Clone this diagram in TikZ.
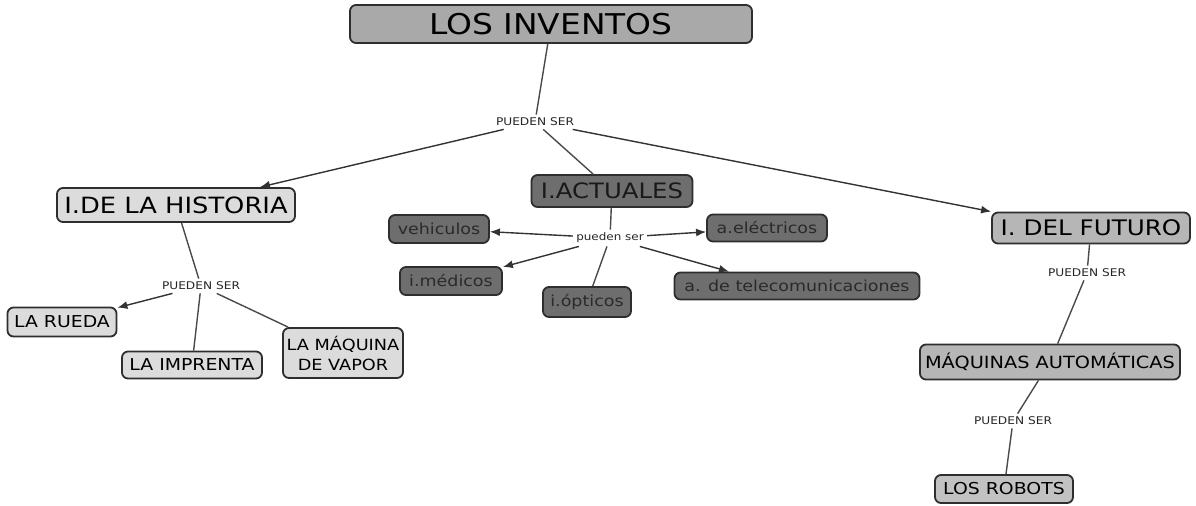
\documentclass[tikz,border=0pt]{standalone}
\usepackage{fontspec}
\setmainfont[FakeStretch=1.15]{DejaVu Sans}
\usetikzlibrary{arrows.meta}
\definecolor{bord}{HTML}{2E2E2E}
\definecolor{topfill}{HTML}{A9A9A9}
\definecolor{histfill}{HTML}{DCDCDC}
\definecolor{actfill}{HTML}{6E6E6E}
\definecolor{acttext}{HTML}{2A2A2A}
\definecolor{futfill}{HTML}{B6B6B6}
\definecolor{robfill}{HTML}{C2C2C2}
\definecolor{linec}{HTML}{4A4A4A}
\tikzset{
  box/.style={draw=bord, line width=0.9pt, rounded corners=3pt, inner sep=0pt, align=center},
  topbox/.style={box, fill=topfill, font=\fontsize{14.3}{16}\selectfont},
  histbox/.style={box, fill=histfill},
  actbox/.style={box, fill=actfill, text=acttext, font=\fontsize{7.6}{9}\selectfont},
  futbox/.style={box, fill=futfill},
  medfont/.style={font=\fontsize{8.2}{10}\selectfont},
  lbl/.style={font=\fontsize{5.3}{6}\selectfont, inner sep=1.5pt, text=black!85},
  conn/.style={draw=linec, line width=0.7pt},
  arr/.style={conn, -{Latex[length=5pt,width=4pt]}, draw=black!80, fill=black!80}
}
\begin{document}
\begin{tikzpicture}[x=0.5pt,y=-0.5pt]
\useasboundingbox (0,0) rectangle (1196,505);
% main
\node[topbox, minimum width=201pt, minimum height=19pt] (inv) at (551,24) {LOS INVENTOS};
\node[lbl] (ps1) at (535,122) {PUEDEN SER};
% historia
\node[histbox, minimum width=119pt, minimum height=17pt, font=\fontsize{11.2}{13}\selectfont] (hist) at (176,205) {I.DE LA HISTORIA};
\node[lbl] (ps2) at (201,286) {PUEDEN SER};
\node[histbox, medfont, minimum width=54.5pt, minimum height=14.5pt] (rueda) at (62,322) {LA RUEDA};
\node[histbox, medfont, minimum width=70pt, minimum height=13.5pt] (impr) at (192,365) {LA IMPRENTA};
\node[histbox, font=\fontsize{7.7}{10}\selectfont, minimum width=60pt, minimum height=25pt] (vapor) at (343,353) {LA MÁQUINA\\DE VAPOR};
% actuales
\node[box, fill=actfill, text=black!90, font=\fontsize{10.6}{12}\selectfont, minimum width=80.5pt, minimum height=16pt] (act) at (612,191) {I.ACTUALES};
\node[lbl, font=\fontsize{5.2}{6}\selectfont] (ps3) at (610,238) {pueden ser};
\node[actbox, minimum width=50pt, minimum height=14pt] (veh) at (439,229) {vehiculos};
\node[actbox, minimum width=60pt, minimum height=13.5pt] (ele) at (767,228) {a.eléctricos};
\node[actbox, minimum width=51pt, minimum height=14pt] (med) at (451,281) {i.médicos};
\node[actbox, minimum width=44pt, minimum height=15pt] (opt) at (587,302) {i.ópticos};
\node[actbox, minimum width=122.5pt, minimum height=13.5pt] (tel) at (797,286) {a. de telecomunicaciones};
% futuro
\node[futbox, minimum width=99pt, minimum height=15.5pt, font=\fontsize{10.7}{12}\selectfont] (fut) at (1091,228) {I. DEL FUTURO};
\node[lbl] (ps4) at (1087,273) {PUEDEN SER};
\node[futbox, font=\fontsize{8.4}{10}\selectfont, minimum width=130pt, minimum height=17.5pt] (maq) at (1050,362) {MÁQUINAS AUTOMÁTICAS};
\node[lbl] (ps5) at (1013,421) {PUEDEN SER};
\node[box, fill=robfill, medfont, minimum width=69pt, minimum height=14pt] (rob) at (1004,489) {LOS ROBOTS};
% connectors
\draw[conn] (inv) -- (ps1);
\draw[arr] (ps1) -- ([xshift=42pt]hist.north);
\draw[conn] (ps1) -- (act);
\draw[arr] (ps1) -- (fut.north west);
\draw[conn] (hist) -- (ps2);
\draw[arr] (ps2) -- (rueda);
\draw[conn] (ps2) -- (impr);
\draw[conn] (ps2) -- (vapor);
\draw[conn] (act) -- (ps3);
\draw[arr] (ps3) -- (veh);
\draw[arr] (ps3) -- (ele);
\draw[arr] (ps3) -- (med);
\draw[conn] (ps3) -- (opt);
\draw[arr] (ps3) -- ([xshift=-34pt]tel.north);
\draw[conn] (fut) -- (ps4);
\draw[conn] (ps4) -- (maq);
\draw[conn] (maq) -- (ps5);
\draw[conn] (ps5) -- (rob);
\end{tikzpicture}
\end{document}
